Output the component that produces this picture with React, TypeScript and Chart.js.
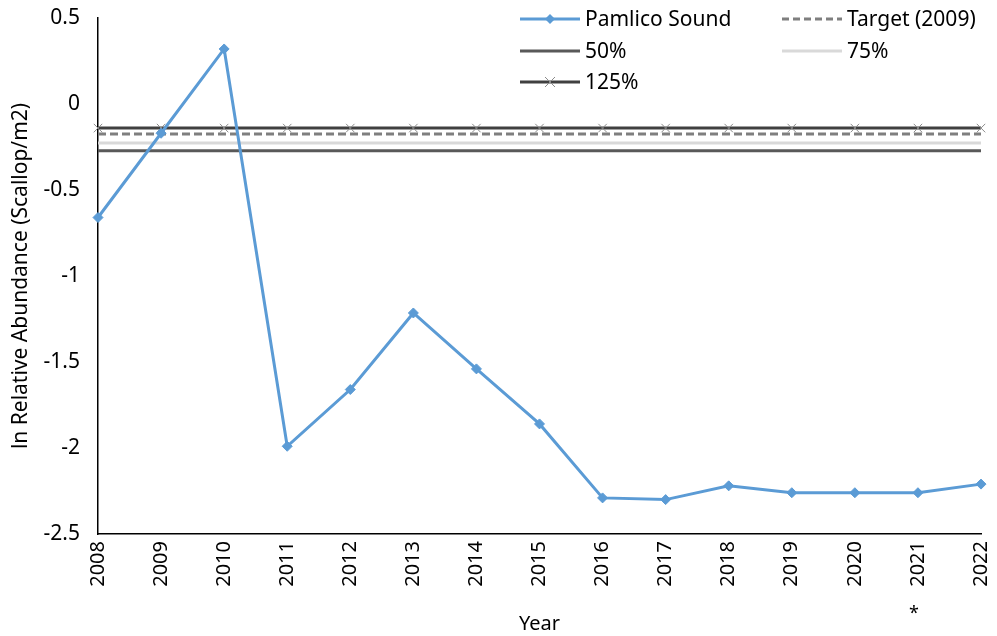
import React, { useEffect, useRef } from "react";
import { Chart, registerables } from "chart.js";

Chart.register(...registerables);

const years = ["2008","2009","2010","2011","2012","2013","2014","2015","2016","2017","2018","2019","2020","2021","2022"];
const pamlico = [-0.66,-0.17,0.32,-1.99,-1.66,-1.215,-1.54,-1.86,-2.29,-2.30,-2.22,-2.26,-2.26,-2.26,-2.21];
const targetLevel = -0.175;
const level50 = -0.272;
const level75 = -0.227;
const level125 = -0.14;
const yTicks = [0.5, 0, -0.5, -1, -1.5, -2, -2.5];
const starYear = "2021";

const FONT = "'Noto Sans', 'DejaVu Sans', sans-serif";

const legendItems = [
  { label: "Pamlico Sound", color: "#5B9BD5", width: 3, dash: [] as number[], marker: "diamond", col: 0, row: 0 },
  { label: "Target (2009)", color: "#7F7F7F", width: 3, dash: [7, 4], marker: "", col: 1, row: 0 },
  { label: "50%", color: "#595959", width: 3, dash: [], marker: "", col: 0, row: 1 },
  { label: "75%", color: "#D9D9D9", width: 3, dash: [], marker: "", col: 1, row: 1 },
  { label: "125%", color: "#404040", width: 3, dash: [], marker: "x", col: 0, row: 2 },
];

const overlayPlugin = {
  id: "overlay",
  afterDraw(chart: any) {
    const ctx = chart.ctx;
    ctx.save();
    const colX = [520, 782];
    const rowY = [19, 51, 82];
    ctx.font = `21px ${FONT}`;
    ctx.textBaseline = "middle";
    ctx.textAlign = "left";
    for (const it of legendItems) {
      const x0 = colX[it.col];
      const y = rowY[it.row];
      ctx.strokeStyle = it.color;
      ctx.lineWidth = it.width;
      ctx.setLineDash(it.dash);
      ctx.beginPath();
      ctx.moveTo(x0, y);
      ctx.lineTo(x0 + 60, y);
      ctx.stroke();
      ctx.setLineDash([]);
      const mx = x0 + 30;
      if (it.marker === "diamond") {
        ctx.fillStyle = it.color;
        ctx.beginPath();
        ctx.moveTo(mx, y - 5);
        ctx.lineTo(mx + 5, y);
        ctx.lineTo(mx, y + 5);
        ctx.lineTo(mx - 5, y);
        ctx.closePath();
        ctx.fill();
      } else if (it.marker === "x") {
        ctx.strokeStyle = "#8C8C8C";
        ctx.lineWidth = 1;
        ctx.beginPath();
        ctx.moveTo(mx - 5, y - 5);
        ctx.lineTo(mx + 5, y + 5);
        ctx.moveTo(mx + 5, y - 5);
        ctx.lineTo(mx - 5, y + 5);
        ctx.stroke();
      }
      ctx.fillStyle = "#000";
      ctx.fillText(it.label, x0 + 65, y + 1);
    }
    const xs = chart.scales.x;
    const idx = years.indexOf(starYear);
    const px = xs.getPixelForValue(idx);
    ctx.font = `18px ${FONT}`;
    ctx.textAlign = "center";
    ctx.textBaseline = "middle";
    ctx.fillStyle = "#000";
    ctx.fillText("*", px - 4, 614);
    ctx.restore();
  },
};

export default function App() {
  const ref = useRef<HTMLCanvasElement | null>(null);
  useEffect(() => {
    document.body.style.margin = "0";
    const canvas = ref.current!;
    const flat = (v: number) => years.map(() => v);
    const chart = new Chart(canvas, {
      type: "line",
      data: {
        labels: years,
        datasets: [
          { label: "50%", data: flat(level50), borderColor: "#595959", borderWidth: 3, pointRadius: 0, order: 5 },
          { label: "75%", data: flat(level75), borderColor: "#D9D9D9", borderWidth: 3, pointRadius: 0, order: 4 },
          { label: "Target (2009)", data: flat(targetLevel), borderColor: "#7F7F7F", borderWidth: 3, borderDash: [8, 4], pointRadius: 0, order: 3 },
          {
            label: "125%", data: flat(level125), borderColor: "#404040", borderWidth: 3,
            pointStyle: "crossRot", pointRadius: 6, pointBorderColor: "#8C8C8C", pointBorderWidth: 1, order: 2,
          },
          {
            label: "Pamlico Sound", data: pamlico, borderColor: "#5B9BD5", borderWidth: 3,
            pointStyle: "rectRot", pointRadius: 5, pointBackgroundColor: "#5B9BD5", pointBorderColor: "#5B9BD5",
            pointBorderWidth: 1, order: 1,
          },
        ] as any,
      },
      options: {
        animation: false,
        responsive: false,
        maintainAspectRatio: false,
        layout: { padding: { top: 18, right: 0, left: 0, bottom: 0 } },
        plugins: { legend: { display: false }, tooltip: { enabled: false } },
        elements: { line: { tension: 0 } },
        scales: {
          x: {
            type: "category",
            offset: false,
            grid: { display: false, drawTicks: true, tickLength: 6, color: "#000" } as any,
            border: { color: "#000", width: 1.5 },
            ticks: {
              color: "#000", font: { family: FONT, size: 20 },
              maxRotation: 90, minRotation: 90, autoSkip: false, padding: 1,
            },
            title: { display: true, text: "Year", color: "#000", font: { family: FONT, size: 20 }, padding: { top: 4, bottom: 0 } },
            afterFit(s: any) { s.height = 102; s.paddingLeft = 0; s.paddingRight = 16; },
          },
          y: {
            min: -2.5, max: 0.5,
            afterBuildTicks(s: any) { s.ticks = yTicks.map((v) => ({ value: v })); },
            grid: { display: false, drawTicks: true, tickLength: 6, color: "#000" } as any,
            border: { color: "#000", width: 1.5 },
            ticks: { color: "#000", font: { family: FONT, size: 21 }, padding: 12, callback: (v: any) => String(v) },
            title: { display: true, text: "ln Relative Abundance (Scallop/m2)", color: "#000", font: { family: FONT, size: 21 }, padding: { top: 8, bottom: 2 } },
            afterFit(s: any) { s.width = 98; s.paddingTop = 0; s.paddingBottom = 0; },
          },
        },
      } as any,
      plugins: [overlayPlugin],
    });
    return () => chart.destroy();
  }, []);
  return (
    <div style={{ position: "absolute", left: 0, top: 0, width: 997, height: 636, background: "#fff" }}>
      <canvas ref={ref} width={997} height={636} style={{ width: 997, height: 636 }} />
    </div>
  );
}
